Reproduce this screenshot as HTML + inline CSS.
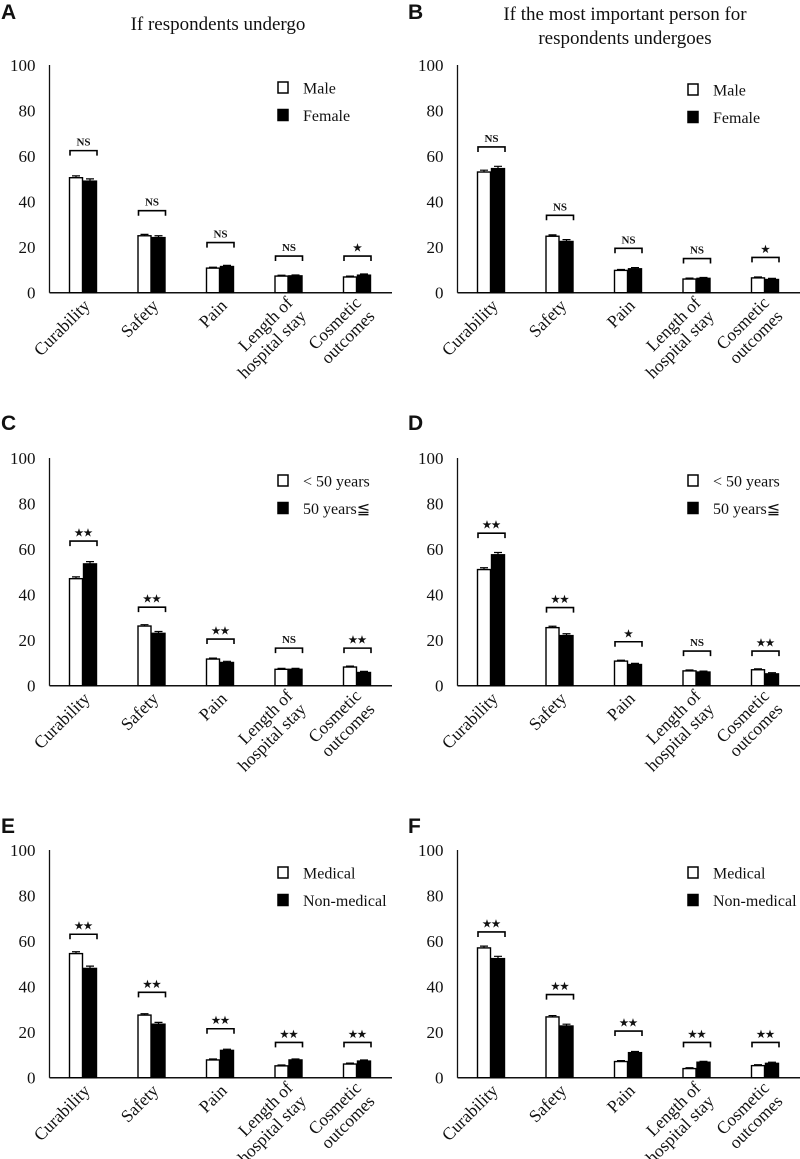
<!DOCTYPE html>
<html><head><meta charset="utf-8">
<style>
html,body{margin:0;padding:0;background:#fff;}
svg{display:block;}
text{font-family:"Liberation Serif",serif;fill:#111;}
.lt{font-family:"Liberation Sans",sans-serif;font-weight:bold;font-size:21px;}
</style></head>
<body>
<svg id="fig" width="800" height="1159" viewBox="0 0 800 1159"></svg>
<script>
const categories = ["Curability","Safety","Pain","Length of|hospital stay","Cosmetic|outcomes"];
const yTicks = [0,20,40,60,80,100];
const aWhite = [50.5,25,10.8,7.3,6.9];
const aBlack = [49,24.2,11.5,7.4,7.7];
const aBracket = [62.4,36,22,16.1,16.1];
const aSig = ["NS","NS","NS","NS","★"];
const bWhite = [53,24.8,9.8,6,6.5];
const bBlack = [54.5,22.5,10.5,6.3,5.8];
const bBracket = [64,34,19.5,15,15.5];
const bSig = ["NS","NS","NS","NS","★"];
const cWhite = [47,26.2,11.7,7.2,8.2];
const cBlack = [53.5,23,10.2,7.2,5.8];
const cBracket = [63.5,34.5,20.5,16.5,16.5];
const cSig = ["★★","★★","★★","NS","★★"];
const dWhite = [51,25.5,10.8,6.5,7];
const dBlack = [57.5,22,9.3,6,5.2];
const dBracket = [67,34.3,19.3,15.2,15.2];
const dSig = ["★★","★★","★","NS","★★"];
const eWhite = [54.5,27.5,7.8,5.2,6];
const eBlack = [48,23.5,12,7.8,7.3];
const eBracket = [63,37.5,21.5,15.5,15.5];
const eSig = ["★★","★★","★★","★★","★★"];
const fWhite = [57,26.7,7.1,4,5.3];
const fBlack = [52.3,22.7,11,6.8,6.3];
const fBracket = [64,36.5,20.5,15.5,15.5];
const fSig = ["★★","★★","★★","★★","★★"];
const errW = [0.8,0.6,0.4,0.4,0.4];
const errB = [1,0.8,0.5,0.4,0.5];

const panels = [
 {id:"a",letter:"A",ox:0,oy:0,w:aWhite,b:aBlack,br:aBracket,sig:aSig,leg:["Male","Female"],title:["If respondents undergo"]},
 {id:"b",letter:"B",ox:408,oy:0,w:bWhite,b:bBlack,br:bBracket,sig:bSig,leg:["Male","Female"],title:["If the most important person for","respondents undergoes"]},
 {id:"c",letter:"C",ox:0,oy:393,w:cWhite,b:cBlack,br:cBracket,sig:cSig,leg:["< 50 years","50 years≦"],title:[]},
 {id:"d",letter:"D",ox:408,oy:393,w:dWhite,b:dBlack,br:dBracket,sig:dSig,leg:["< 50 years","50 years≦"],title:[]},
 {id:"e",letter:"E",ox:0,oy:785,w:eWhite,b:eBlack,br:eBracket,sig:eSig,leg:["Medical","Non-medical"],title:[]},
 {id:"f",letter:"F",ox:408,oy:785,w:fWhite,b:fBlack,br:fBracket,sig:fSig,leg:["Medical","Non-medical"],title:[]}
];
const NS="http://www.w3.org/2000/svg";
const svg=document.getElementById('fig');
function mk(tag,attrs,parent,txt){const e=document.createElementNS(NS,tag);for(const k in attrs)e.setAttribute(k,attrs[k]);if(txt!==undefined)e.textContent=txt;parent.appendChild(e);return e;}

panels.forEach(p=>{
 const g=mk('g',{},svg);
 
 
 const ax=49.5+p.ox, base=292.7+p.oy, top=65+p.oy;
 const yS=v=>base-(v/100)*(base-top);
 const xC=i=>ax+33.5+i*68.5;
 const lt=mk('text',{x:p.ox?p.ox:1,y:(p.id==='a'||p.id==='b')?19:p.oy+(p.id==='e'||p.id==='f'?48:37),class:'lt'},g,p.letter);
 
 
 p.title.forEach((t,k)=>{
  const tt=mk('text',{x:p.id==='a'?218:625,y:(p.title.length===1?30:20+k*24),'text-anchor':'middle','font-size':'19'},g,t);
  
  
 });
 const yl=mk('line',{x1:ax,y1:top,x2:ax,y2:base,stroke:'#111','stroke-width':1.3},g);
 
 
 const xl=mk('line',{x1:ax,y1:base,x2:p.ox+392,y2:base,stroke:'#111','stroke-width':1.5},g);
 
 
 yTicks.forEach(v=>{
  const t=mk('text',{x:ax-14,y:yS(v)+6,'text-anchor':'end','font-size':'17'},g,v);
  
  
 });
 categories.forEach((c,i)=>{
  const cx=xC(i);
  [[p.w[i],errW[i],'#fff',-1],[p.b[i],errB[i],'#000',1]].forEach(([v,e,fill,s])=>{
   const x0=s<0?cx-13.5:cx+0.5;
   const r=mk('rect',{x:x0,y:yS(v),width:13,height:base-yS(v),fill:fill,stroke:'#000','stroke-width':1.4},g);
   
   
   const ex=x0+6.5;
   const el=mk('path',{d:`M${ex},${yS(v)} V${yS(v+e)} M${ex-4},${yS(v+e)} H${ex+4}`,stroke:'#000','stroke-width':1.2,fill:'none'},g);
   
   
  });
  const by=yS(p.br[i]);
  const bk=mk('path',{d:`M${cx-13},${by+5} V${by} H${cx+14} V${by+5}`,stroke:'#000','stroke-width':1.6,fill:'none'},g);
  
  
  const st=mk('text',{x:cx+0.5,y:by-5,'text-anchor':'middle','font-size':p.sig[i]==='NS'?'11':'10','font-weight':'bold'},g,p.sig[i]);
  
  
  const parts=c.split('|');
  const lx=cx+8, ly=base+14;
  const ct=mk('text',{transform:`translate(${lx},${ly}) rotate(-45)`,'text-anchor':'end','font-size':'17.5'},g);
  
  
  parts.forEach((pt,k)=>{mk('tspan',{x:0,dy:k===0?(parts.length>1?-4:0):19},ct,pt);});
 });
 const lx=p.ox+(p.ox?285:283), ly=(p.oy===0&&p.ox)?90:88+p.oy;
 p.leg.forEach((t,k)=>{
  const yy=ly+k*27.5;
  const sq=mk('rect',{x:lx-5,y:yy-6,width:10,height:11,fill:k?'#000':'#fff',stroke:'#000','stroke-width':1.5},g);
  
  
  const tx=mk('text',{x:lx+20,y:yy+5.5,'font-size':'16'},g,t);
  
  
 });
});
</script>
</body></html>
